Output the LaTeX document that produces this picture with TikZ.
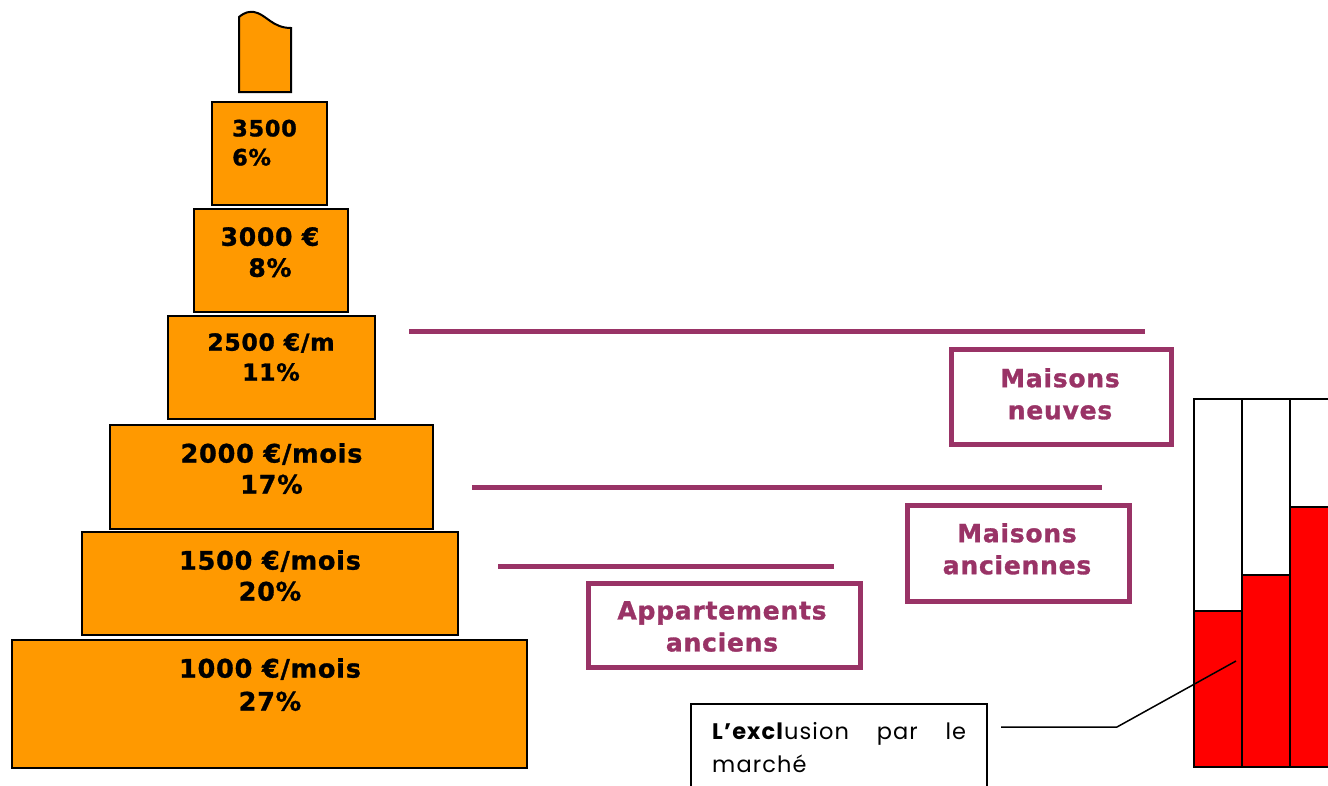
\documentclass[tikz,border=0pt]{standalone}
\usepackage{fontspec}
\setmainfont{DejaVu Sans}[BoldFeatures={FakeBold=1.2,LetterSpace=3}]
\newfontfamily\geofont{Poppins}[LetterSpace=5]
\definecolor{orng}{HTML}{FF9900}
\definecolor{plum}{HTML}{993366}
\definecolor{redbar}{HTML}{FF0000}
\begin{document}
\begin{tikzpicture}[x=1pt,y=-1pt,
  obox/.style={draw=black, line width=2pt, fill=orng, anchor=north west, inner sep=0pt},
  otext/.style={inner sep=0pt, anchor=north, align=center, font=\bfseries\fontsize{#1}{31}\selectfont},
  pbox/.style={draw=plum, line width=4.5pt, anchor=north west, inner sep=0pt},
  ptext/.style={inner sep=0pt, anchor=north, align=center, text=plum, font=\bfseries\fontsize{25}{32}\selectfont},
  pline/.style={draw=plum, line width=5pt},
  bar/.style={draw=black, line width=2pt}]
\useasboundingbox (0,0) rectangle (1328,785);
\clip (0,0) rectangle (1328,785);

% top piece
\draw[line width=2pt, fill=orng] (239,92) -- (239,17) .. controls (245,12) and (249,11.5) .. (254,12) .. controls (266,14) and (272,28) .. (291,28) -- (291,92) -- cycle;

% pyramid boxes
\node[obox, minimum width=115, minimum height=103] (b3500) at (211,101) {};
\node[obox, minimum width=154, minimum height=103] (b3000) at (193,208) {};
\node[obox, minimum width=207, minimum height=103] (b2500) at (167,315) {};
\node[obox, minimum width=323, minimum height=104] (b2000) at (109,424) {};
\node[obox, minimum width=376, minimum height=103] (b1500) at (81,531) {};
\node[obox, minimum width=515, minimum height=128] (b1000) at (11,639) {};

\node[inner sep=0pt, anchor=north west, align=left, font=\bfseries\fontsize{22.5}{29}\selectfont] (t3500) at (232,119.5) {3500\\6\%};
\node[otext=25] (t3000) at (270,227) {3000 €\\8\%};
\node[otext=23.5, font=\bfseries\fontsize{23.5}{30}\selectfont] (t2500) at (271,333) {2500 €/m\\11\%};
\node[otext=25.5] (t2000) at (271.5,443) {2000 €/mois\\17\%};
\node[otext=25.5] (t1500) at (270,550) {1500 €/mois\\20\%};
\node[otext=25.5, font=\bfseries\fontsize{25.5}{33}\selectfont] (t1000) at (270,658) {1000 €/mois\\27\%};

% purple lines
\coordinate (l1a) at (409,331); \coordinate (l1b) at (1145,331);
\coordinate (l2a) at (472,487); \coordinate (l2b) at (1102,487);
\coordinate (l3a) at (498,566); \coordinate (l3b) at (834,566);
\draw[pline] (l1a) -- (l1b);
\draw[pline] (l2a) -- (l2b);
\draw[pline] (l3a) -- (l3b);

% purple boxes
\node[pbox, minimum width=220, minimum height=95] (mn) at (949,347) {};
\node[ptext] (mnt) at (1060,368) {Maisons\\neuves};
\node[pbox, minimum width=222, minimum height=96] (ma) at (905,503) {};
\node[ptext] (mat) at (1017,523) {Maisons\\anciennes};
\node[pbox, minimum width=272, minimum height=84] (aa) at (586,581) {};
\node[ptext] (aat) at (722,601) {Appartements\\anciens};

% bars
\draw[bar, fill=white] (1194,399) rectangle (1242,767);
\draw[bar, fill=white] (1242,399) rectangle (1290,767);
\draw[bar, fill=white] (1290,399) rectangle (1340,767);
\draw[bar, fill=redbar] (1194,611) rectangle (1242,767);
\draw[bar, fill=redbar] (1242,575) rectangle (1290,767);
\draw[bar, fill=redbar] (1290,507) rectangle (1340,767);

% text box
\node[draw=black, line width=1.5pt, anchor=north west, inner sep=0pt, minimum width=296, minimum height=110] (exbox) at (690,703) {};
\node[anchor=north west, inner sep=0pt, text width=254pt, align=justify, font=\geofont\fontsize{22.5}{33}\selectfont] (excl) at (712,722.5) {\textbf{L’excl}usion par le\linebreak marché};

% connector
\coordinate (c0) at (1001,727);
\coordinate (c1) at (1117,727);
\coordinate (c2) at (1236,661);
\draw[line width=1.5pt] (c0) -- (c1) -- (c2);
\end{tikzpicture}
\end{document}
